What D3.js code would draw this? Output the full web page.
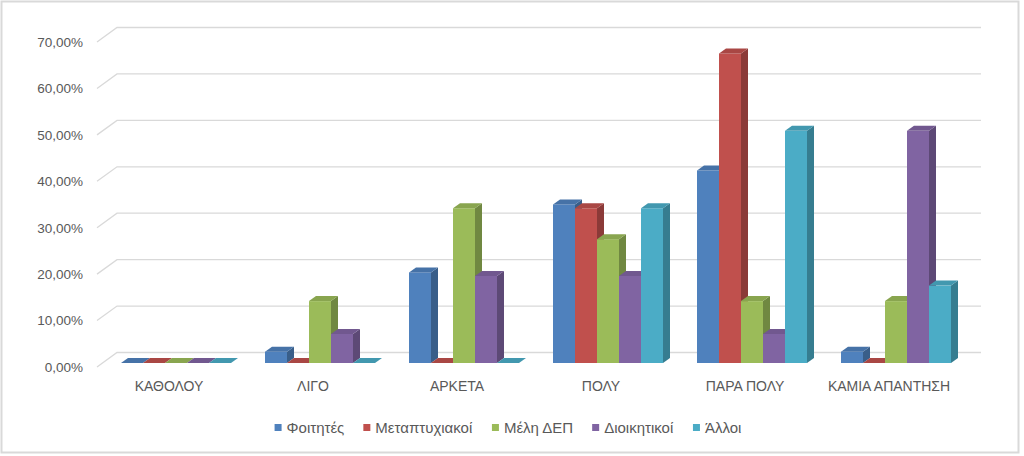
<!DOCTYPE html>
<html>
<head>
<meta charset="utf-8">
<script src="https://cdn.jsdelivr.net/npm/d3@7"></script>
<style>
  html, body { margin: 0; padding: 0; background: #fff; }
  text { font-family: "Liberation Sans", Arial, sans-serif; fill: #595959; }
</style>
</head>
<body>
<svg id="chart" width="1024" height="456"></svg>
<script>
// Categories and series (shares)
const categories = ["ΚΑΘΟΛΟΥ", "ΛΙΓΟ", "ΑΡΚΕΤΑ", "ΠΟΛΥ", "ΠΑΡΑ ΠΟΛΥ", "ΚΑΜΙΑ ΑΠΑΝΤΗΣΗ"];
const seriesNames = ["Φοιτητές", "Μεταπτυχιακοί", "Μέλη ΔΕΠ", "Διοικητικοί", "Άλλοι"];
const foitites = [0, 0.0244, 0.1951, 0.3415, 0.4146, 0.0244];
const metaptyxiakoi = [0, 0, 0, 0.3333, 0.6667, 0];
const meliDep = [0, 0.1333, 0.3333, 0.2667, 0.1333, 0.1333];
const dioikitikoi = [0, 0.0625, 0.1875, 0.1875, 0.0625, 0.5];
const alloi = [0, 0, 0, 0.3333, 0.5, 0.1667];
const seriesValues = [foitites, metaptyxiakoi, meliDep, dioikitikoi, alloi];
const yTicks = [0, 0.1, 0.2, 0.3, 0.4, 0.5, 0.6, 0.7];

const colours = ["#4f81bd", "#c0504d", "#9bbb59", "#8064a2", "#4bacc6"];

// 3D look: wall depth and bar depth offsets
const wallDX = 20, wallDY = -14.5;
const barOffX = 7, barOffY = -4;
const barDX = 7, barDY = -5;

const svg = d3.select("#chart");

// chart area border
svg.append("rect")
  .attr("x", 1.5).attr("y", 1.5)
  .attr("width", 1017).attr("height", 451)
  .attr("fill", "#fff")
  .attr("stroke", "#d9d9d9")
  .attr("stroke-width", 2);

const x = d3.scaleBand()
  .domain(categories)
  .range([97, 961]);

const y = d3.scaleLinear()
  .domain([0, 0.7])
  .range([367, 42]);

const groupWidth = 110;
const xs = d3.scaleBand()
  .domain(seriesNames)
  .range([0, groupWidth]);

// gridlines: left wall diagonal + back wall horizontal
const grid = svg.append("g").attr("fill", "none").attr("stroke", "#d9d9d9").attr("stroke-width", 1.3);
yTicks.forEach(t => {
  const y0 = y(t);
  grid.append("path")
    .attr("d", `M${x.range()[0]},${y0}L${x.range()[0] + wallDX},${y0 + wallDY}L${x.range()[1] + wallDX},${y0 + wallDY}`);
});

// y axis labels
const locale = d3.formatLocale({decimal: ",", thousands: ".", grouping: [3], currency: ["", "€"]});
const yAxis = svg.append("g")
  .attr("transform", `translate(${x.range()[0]},0)`)
  .call(d3.axisLeft(y).tickValues(yTicks).tickFormat(locale.format(".2%")).tickSize(0).tickPadding(14));
yAxis.select(".domain").remove();
yAxis.selectAll("text").style("font-size", "13.5px").attr("fill", "#595959");

// bars
const bars = svg.append("g");
categories.forEach((cat, ci) => {
  const gx = x(cat) + (x.bandwidth() - groupWidth) / 2 + barOffX;
  seriesNames.forEach((name, si) => {
    const v = seriesValues[si][ci];
    const c = d3.color(colours[si]);
    const x0 = gx + xs(name), w = xs.bandwidth();
    const yb = y(0) + barOffY, yt = y(v) + barOffY;
    // side face
    bars.append("path")
      .attr("d", `M${x0 + w},${yt}L${x0 + w + barDX},${yt + barDY}L${x0 + w + barDX},${yb + barDY}L${x0 + w},${yb}Z`)
      .attr("fill", c.darker(0.9));
    // front face
    bars.append("rect")
      .attr("x", x0).attr("y", yt)
      .attr("width", w).attr("height", Math.max(0, yb - yt))
      .attr("fill", c);
    // top face
    bars.append("path")
      .attr("d", `M${x0},${yt}L${x0 + barDX},${yt + barDY}L${x0 + w + barDX},${yt + barDY}L${x0 + w},${yt}Z`)
      .attr("fill", c.darker(0.35));
  });
});

// category labels
const xAxis = svg.append("g")
  .attr("transform", `translate(0,${y(0)})`)
  .call(d3.axisBottom(x).tickSize(0).tickPadding(14));
xAxis.select(".domain").remove();
xAxis.selectAll("text").style("font-size", "14px").attr("fill", "#595959");

// legend
const legend = svg.append("g").attr("transform", "translate(0,428)");
const items = legend.selectAll("g").data(seriesNames).join("g");
items.append("rect")
  .attr("width", 7).attr("height", 7).attr("y", -4)
  .attr("fill", (d, i) => colours[i]);
items.append("text")
  .attr("x", 12).attr("dy", "0.35em")
  .style("font-size", "15px")
  .text(d => d);
const widths = [];
items.each(function() { widths.push(this.getBBox().width); });
const gap = 19;
const total = d3.sum(widths) + gap * (widths.length - 1);
let cx = 508 - total / 2;
items.attr("transform", (d, i) => {
  const t = `translate(${cx},0)`;
  cx += widths[i] + gap;
  return t;
});
</script>
</body>
</html>
